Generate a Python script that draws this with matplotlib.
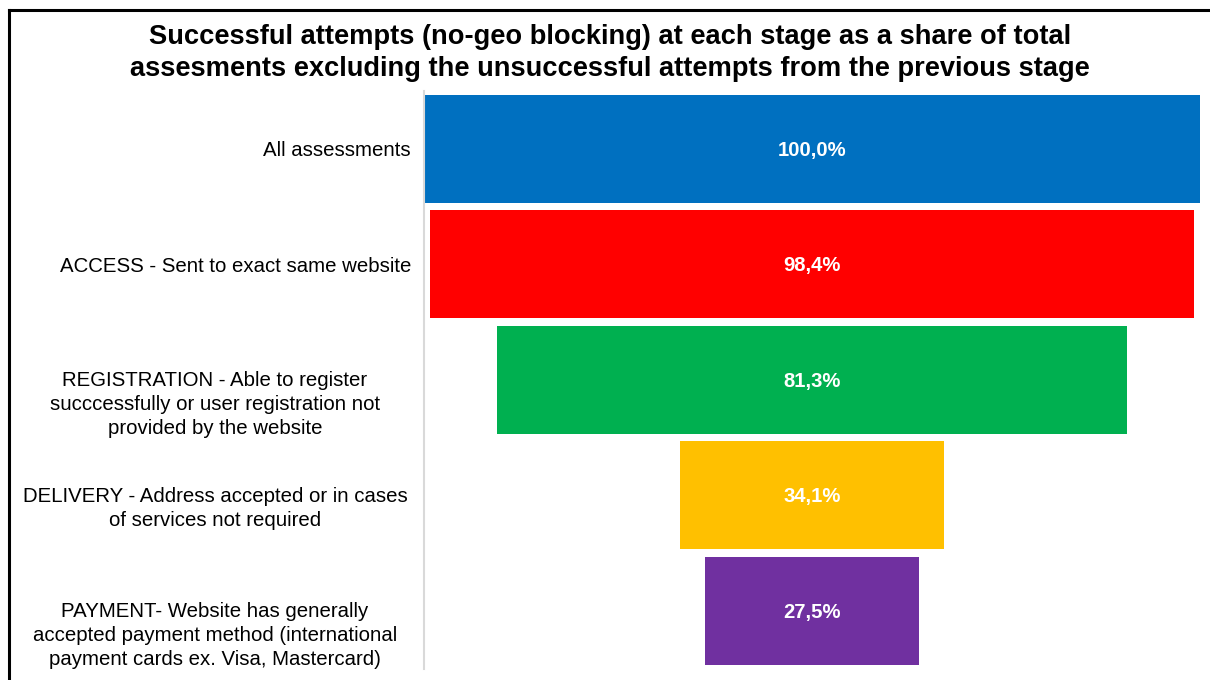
import matplotlib.pyplot as plt
import matplotlib.transforms as mtransforms
from matplotlib.lines import Line2D

plt.rcParams['font.family'] = ['Liberation Sans', 'DejaVu Sans']

# funnel stages, top to bottom
stages = [
    'All assessments',
    'ACCESS - Sent to exact same website',
    'REGISTRATION - Able to register\nsucccessfully or user registration not\nprovided by the website',
    'DELIVERY - Address accepted or in cases\nof services not required',
    'PAYMENT- Website has generally\naccepted payment method (international\npayment cards ex. Visa, Mastercard)',
]
shares = [100.0, 98.4, 81.3, 34.1, 27.5]
colors = ['#0070C0', '#FF0000', '#00B050', '#FFC000', '#7030A0']
title_lines = [
    'Successful attempts (no-geo blocking) at each stage as a share of total',
    'assesments excluding the unsuccessful attempts from the previous stage',
]

W, H = 1210, 680
PX = 0.72  # points per pixel at 100 dpi
fig = plt.figure(figsize=(W / 100, H / 100), dpi=100)
ax = fig.add_axes([424 / W, 1 - 668.5 / H, 776 / W, 577.5 / H])

pos = list(range(len(stages)))
# centred bars give the funnel shape
ax.barh(pos, shares, left=[-s / 2 for s in shares], height=0.935, color=colors)

# value labels, capitals centred on the bar
for y, s in zip(pos, shares):
    ax.annotate(f'{s:.1f}%'.replace('.', ','), (0, y), xytext=(0, -7.2 * PX),
                textcoords='offset points', ha='center', va='baseline',
                color='white', fontsize=14.6, fontweight='bold')

ax.set_xlim(-50, 50)
ax.set_ylim(len(stages) - 0.5, -0.5)
ax.set_xticks([])
ax.set_yticks([])
for side in ['top', 'right', 'bottom']:
    ax.spines[side].set_visible(False)
ax.spines['left'].set_color('#D9D9D9')
ax.spines['left'].set_linewidth(1.5)

# stage names: single lines hug the axis, wrapped ones are centred in the label area;
# the first line always sits level with the bar centre ('baseline' is the last line's)
line_px = 23.5
trans = mtransforms.blended_transform_factory(fig.transFigure, ax.transData)
for y, label in zip(pos, stages):
    n = label.count('\n')
    x, ha = (215 / W, 'center') if n else (411 / W, 'right')
    ax.annotate(label, (x, y), xycoords=trans,
                xytext=(0, -(7.3 + n * line_px) * PX), textcoords='offset points',
                ha=ha, va='baseline', multialignment='center',
                fontsize=14.7, linespacing=1.33)

for base, line in zip([44, 76.5], title_lines):
    fig.text(610 / W, 1 - base / H, line, ha='center', va='baseline',
             fontsize=19.6, fontweight='bold')

# frame on the top and left edges
fig.add_artist(Line2D([8.7 / W, 1], [1 - 9.5 / H, 1 - 9.5 / H], color='black', lw=2.2,
                      transform=fig.transFigure))
fig.add_artist(Line2D([8.7 / W, 8.7 / W], [1 - 9.5 / H, 0], color='black', lw=2.2,
                      transform=fig.transFigure))

fig.savefig('out.png', dpi=100)
